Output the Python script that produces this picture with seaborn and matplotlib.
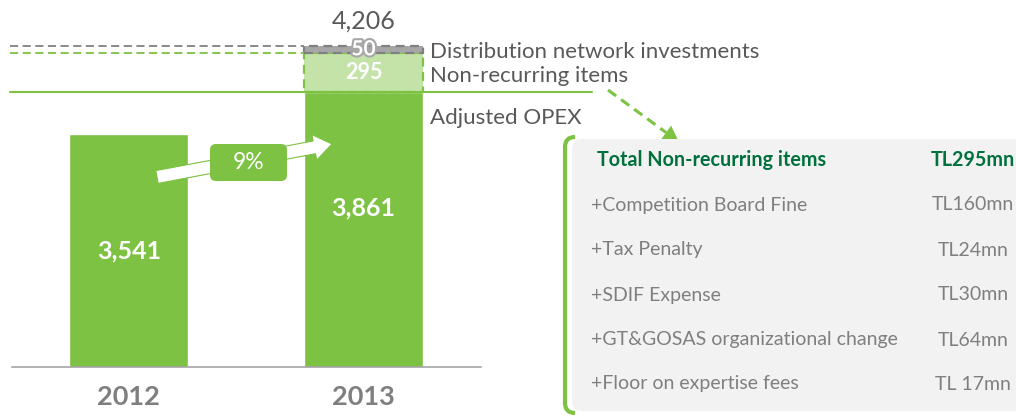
import matplotlib
matplotlib.use("Agg")
import matplotlib.pyplot as plt
import matplotlib.patheffects as pe
from matplotlib.patches import FancyBboxPatch, FancyArrow, Polygon, PathPatch
from matplotlib.path import Path
import numpy as np
import pandas as pd
import seaborn as sns

# ---- data -------------------------------------------------------------
years = ["2012", "2013"]
adjusted_opex = [3541, 3861]          # TL mn
non_recurring_2013 = 295
distribution_invest_2013 = 50

segment_labels = ["Adjusted OPEX", "Non-recurring items", "Distribution network investments"]

item_names = ["+Competition Board Fine", "+Tax Penalty", "+SDIF Expense",
              "+GT&GOSAS organizational change", "+Floor on expertise fees"]
item_values = [160, 24, 30, 64, 17]
item_labels = ["TL160mn", "TL24mn", "TL30mn", "TL64mn", "TL 17mn"]

# ---- style ------------------------------------------------------------
sns.set_theme(style="white")
plt.rcParams["font.family"] = ["Lato", "DejaVu Sans"]

GREEN = "#7DC242"
LIGHT_GREEN = "#C4E3A8"
GRAY_BOX = "#A6A6A6"
GRAY_EDGE = "#808080"
TEXT = "#595959"
YEAR = "#7F7F7F"
DARK_GREEN = "#00703C"
PANEL = "#F2F2F2"

W, H = 1016, 416
fig = plt.figure(figsize=(W / 100, H / 100), dpi=100)

# bar axes: truncated value axis
base_val = 1780
px_per_unit = 233 / (adjusted_opex[0] - base_val)
ax = fig.add_axes([12 / W, 49 / H, 469 / W, 367 / H])

df = pd.DataFrame({"year": years, "opex": adjusted_opex})
bar_w = 0.505
sns.barplot(data=df, x="year", y="opex", color=GREEN, saturation=1,
            width=bar_w, ax=ax)

top_nr = adjusted_opex[1] + non_recurring_2013
total_2013 = top_nr + distribution_invest_2013

ax.bar(1, non_recurring_2013, bottom=adjusted_opex[1], width=bar_w,
       color=LIGHT_GREEN, edgecolor=GREEN, linestyle=(0, (4, 2.5)), linewidth=1.6)
ax.bar(1, distribution_invest_2013, bottom=top_nr, width=bar_w,
       color=GRAY_BOX, edgecolor=GRAY_EDGE, linestyle=(0, (4, 2.5)), linewidth=1.6)

ax.set_ylim(base_val, base_val + 367 / px_per_unit)
ax.set_xlim(-0.4973, 1.5005)
ax.set_yticks([])
ax.set_xlabel("")
ax.set_ylabel("")
for s in ["top", "left", "right"]:
    ax.spines[s].set_visible(False)
ax.spines["bottom"].set_color("#A6A6A6")
ax.spines["bottom"].set_linewidth(1.2)
ax.tick_params(axis="x", length=0, pad=13)
for t in ax.get_xticklabels():
    t.set_fontsize(19.5)
    t.set_fontweight("bold")
    t.set_color(YEAR)
ax.patch.set_alpha(0)

# reference lines at segment tops
x_left = -0.506
bar_left = 1 - bar_w / 2
ax.plot([x_left, bar_left], [total_2013, total_2013], color=GRAY_EDGE, lw=1.3,
        dashes=(4.5, 2.5), clip_on=False)
ax.plot([x_left, bar_left], [top_nr, top_nr], color=GREEN, lw=1.3,
        dashes=(4.5, 2.5), clip_on=False)
ax.plot([x_left, 1.973], [adjusted_opex[1], adjusted_opex[1]], color=GREEN,
        lw=1.5, clip_on=False)

# value labels
for i, v in enumerate(adjusted_opex):
    ax.annotate(f"{v:,}", xy=(i, v), xytext=(0, -84), textcoords="offset points",
                ha="center", va="center", color="white", fontsize=18,
                fontweight="bold")
ax.text(1, adjusted_opex[1] + non_recurring_2013 / 2, f"{non_recurring_2013}",
        ha="center", va="center", color="white", fontsize=15.5, fontweight="bold")
ax.text(1, top_nr + distribution_invest_2013 / 2, f"{distribution_invest_2013}",
        ha="center", va="center", color="white", fontsize=15, fontweight="bold",
        path_effects=[pe.withStroke(linewidth=3, foreground=GRAY_BOX)])
ax.annotate(f"{total_2013:,}", xy=(1, total_2013), xytext=(0, 18),
            textcoords="offset points", ha="center", va="center",
            color=TEXT, fontsize=18)

# segment names
lab_x = 1.283
ax.annotate(segment_labels[2], xy=(lab_x, top_nr + distribution_invest_2013 / 2),
            xytext=(0, -2), textcoords="offset points",
            ha="left", va="center", color=TEXT, fontsize=16)
ax.annotate(segment_labels[1], xy=(lab_x, adjusted_opex[1] + non_recurring_2013 / 2),
            xytext=(0, -2.5), textcoords="offset points",
            ha="left", va="center", color=TEXT, fontsize=16)
ax.annotate(segment_labels[0], xy=(lab_x, adjusted_opex[1]), xytext=(0, -19),
            textcoords="offset points", ha="left", va="center",
            color=TEXT, fontsize=16)

# ---- overlay in pixel coordinates -------------------------------------
ov = fig.add_axes([0, 0, 1, 1])
ov.set_xlim(0, W)
ov.set_ylim(H, 0)
ov.axis("off")
ov.patch.set_alpha(0)

# growth arrow and badge
growth = round((adjusted_opex[1] / adjusted_opex[0] - 1) * 100)
tail = np.array([157.0, 177.0])
tip = np.array([332.0, 144.0])
ov.add_patch(FancyArrow(tail[0], tail[1], *(tip - tail), width=13, head_width=26,
                        head_length=18, length_includes_head=True,
                        fc="white", ec=GREEN, lw=0.8, zorder=5))
ov.add_patch(FancyBboxPatch((210, 144), 77, 37,
                            boxstyle="round,pad=0,rounding_size=6",
                            fc=GREEN, ec="none", zorder=6))
ov.text(248.5, 162.5, f"{growth}%", ha="center", va="center", color="white",
        fontsize=16.5, zorder=7)

# dashed pointer to the breakdown panel
p0 = np.array([608.0, 90.0])
p1 = np.array([679.0, 142.0])
u = (p1 - p0) / np.linalg.norm(p1 - p0)
n = np.array([-u[1], u[0]])
head_len, head_half = 16, 8.5
base = p1 - head_len * u
ov.plot([p0[0], base[0]], [p0[1], base[1]], color=GREEN, lw=2.2,
        dashes=(3.3, 2.0), solid_capstyle="butt")
ov.add_patch(Polygon([p1, base + head_half * n, base - head_half * n],
                     closed=True, fc=GREEN, ec="none"))

# breakdown panel
ov.add_patch(FancyBboxPatch((572, 139), 470, 272,
                            boxstyle="round,pad=0,rounding_size=10",
                            fc=PANEL, ec="none", zorder=1))
verts = [(575, 137), (565, 137), (565, 147), (565, 403), (565, 413), (575, 413)]
codes = [Path.MOVETO, Path.CURVE3, Path.CURVE3, Path.LINETO, Path.CURVE3, Path.CURVE3]
ov.add_patch(PathPatch(Path(verts, codes), fc="none", ec=GREEN, lw=3, zorder=2))

total_items = sum(item_values)
ov.text(597, 160, "Total Non-recurring items", ha="left", va="center",
        color=DARK_GREEN, fontsize=14.2, fontweight="bold", zorder=3)
ov.text(973, 160, f"TL{total_items}mn", ha="center", va="center",
        color=DARK_GREEN, fontsize=14.2, fontweight="bold", zorder=3)
row_y = [205, 250, 295, 340, 384]
for y, name, lab in zip(row_y, item_names, item_labels):
    ov.text(591, y, name, ha="left", va="center", color=YEAR, fontsize=14, zorder=3)
    ov.text(973, y, lab, ha="center", va="center", color=YEAR, fontsize=14, zorder=3)

fig.savefig("out.png", dpi=100)
